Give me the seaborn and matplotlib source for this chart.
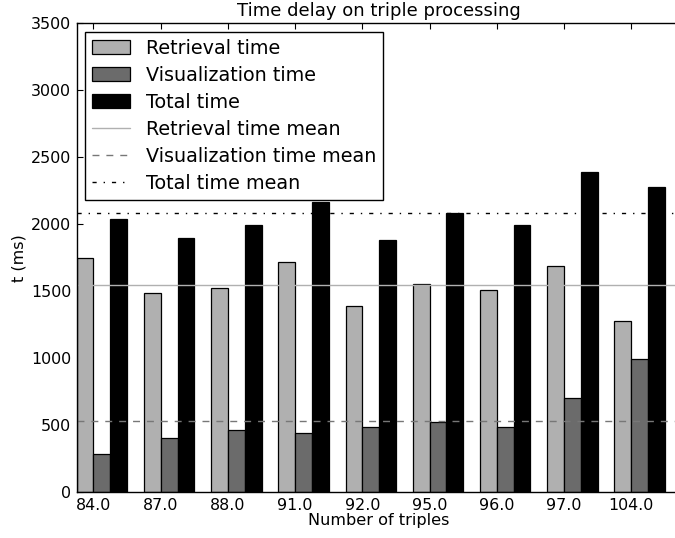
import numpy as np
import pandas as pd
import matplotlib
matplotlib.use("Agg")
import matplotlib.pyplot as plt
import seaborn as sns
from matplotlib.patches import Patch
from matplotlib.lines import Line2D

# ========== DATA ==========
triples = ["84.0", "87.0", "88.0", "91.0", "92.0", "95.0", "96.0", "97.0", "104.0"]
retrieval_ms = [1748, 1485, 1525, 1721, 1388, 1552, 1507, 1689, 1278]
visualization_ms = [283, 405, 465, 442, 485, 525, 485, 701, 995]
total_ms = [2042, 1895, 1995, 2169, 1883, 2082, 1997, 2393, 2276]

series_names = ["Retrieval time", "Visualization time", "Total time"]
colors = {"Retrieval time": "#b0b0b0",
          "Visualization time": "#6b6b6b",
          "Total time": "#000000"}

df = pd.DataFrame({
    "triples": triples * 3,
    "series": np.repeat(series_names, len(triples)),
    "ms": retrieval_ms + visualization_ms + total_ms,
})

# ========== STYLE ==========
sns.set_theme(style="ticks")
plt.rcParams.update({
    "font.family": ["DejaVu Sans"],
    "text.color": "black",
    "axes.labelcolor": "black",
    "xtick.color": "black",
    "ytick.color": "black",
    "xtick.direction": "in",
    "ytick.direction": "in",
    "xtick.major.size": 4,
    "ytick.major.size": 4,
    "axes.edgecolor": "black",
    "axes.linewidth": 1.0,
})

fig = plt.figure(figsize=(6.75, 5.38), dpi=100)
ax = fig.add_axes([0.1136, 0.0849, 0.8963, 0.8717])

sns.barplot(data=df, x="triples", y="ms", hue="series", order=triples,
            hue_order=series_names, palette=colors, width=0.75,
            edgecolor="black", linewidth=0.9, errorbar=None,
            legend=False, ax=ax, saturation=1)

# mean lines
ax.axhline(np.mean(retrieval_ms), color="#b0b0b0", lw=1.0)
ax.axhline(np.mean(visualization_ms), color="#777777", lw=1.0, dashes=(5, 5))
ax.axhline(np.mean(total_ms), color="black", lw=1.0, dashes=(3, 5, 1, 5))

n = len(triples)
ax.set_xlim(-0.375, n - 0.375)
ax.set_xticks(np.arange(n) - 0.125)
ax.set_xticklabels(triples)
ax.set_ylim(0, 3500)
ax.set_yticks(np.arange(0, 3501, 500))
ax.tick_params(top=True, right=True, labelsize=11.4, width=0.8, pad=4)
ax.spines["right"].set_visible(False)

ax.set_title("Time delay on triple processing", fontsize=13, pad=5)
ax.set_xlabel("Number of triples", fontsize=11.6, labelpad=0)
ax.set_ylabel("t (ms)", fontsize=11.6, labelpad=3)

handles = [
    Patch(facecolor=colors["Retrieval time"], edgecolor="black", lw=0.9),
    Patch(facecolor=colors["Visualization time"], edgecolor="black", lw=0.9),
    Patch(facecolor=colors["Total time"], edgecolor="black", lw=0.9),
    Line2D([], [], color="#b0b0b0", lw=1.0),
    Line2D([], [], color="#777777", lw=1.0, dashes=(5, 5)),
    Line2D([], [], color="black", lw=1.0, dashes=(3, 5, 1, 5)),
]
labels = series_names + ["Retrieval time mean", "Visualization time mean",
                         "Total time mean"]
leg = ax.legend(handles, labels, loc="upper left", fontsize=13.8,
                fancybox=False, framealpha=1, edgecolor="black",
                handlelength=2.0, handleheight=0.7, handletextpad=0.8,
                borderpad=0.35, labelspacing=0.42, borderaxespad=0.45)
leg.get_frame().set_linewidth(1.0)

fig.savefig("out.png", dpi=100)
